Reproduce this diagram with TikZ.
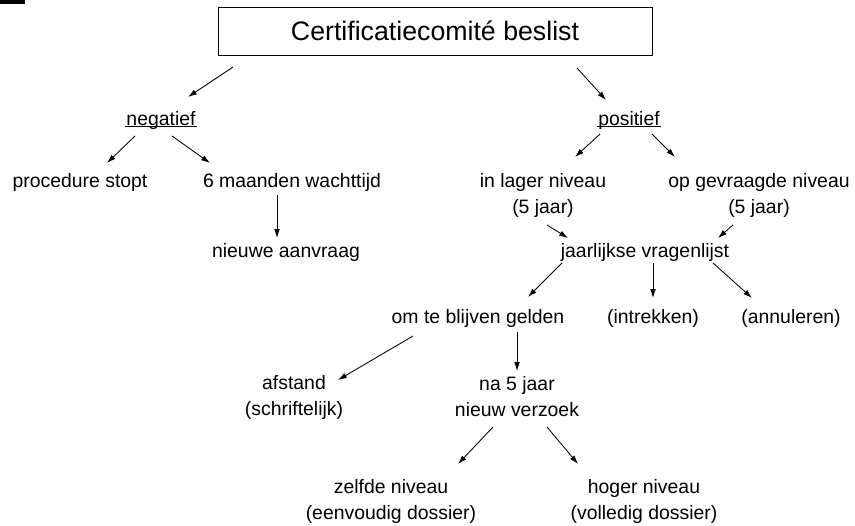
\documentclass[tikz,border=0pt]{standalone}
\usepackage{fontspec}
\setmainfont{Liberation Sans}
\usetikzlibrary{arrows.meta,calc}

\tikzset{
  lbl/.style={font=\fontsize{13.8}{18.5}\selectfont, align=center, inner sep=1pt},
  arr/.style={-{Latex[length=2.2mm,width=1.4mm]}, line width=0.6pt},
}

\begin{document}
\begin{tikzpicture}[x=0.025cm,y=-0.025cm]
  \useasboundingbox (0,0) rectangle (855,526);
  \fill (0,0) rectangle (25,4);

  \node[draw, line width=0.6pt, minimum width=10.85cm, minimum height=1.2cm,
        font=\fontsize{19}{23}\selectfont] (title) at (435,31) {Certificatiecomité beslist};

  % eerste splitsing
  \node[lbl, text depth=0pt] (neg) at (161,118) {negatief};
  \node[lbl, text depth=0pt] (pos) at (629,118) {positief};
  \draw[line width=0.6pt] (neg.south west) -- (neg.south east);
  \draw[line width=0.6pt] (pos.south west) -- (pos.south east);

  \node[lbl] (proc) at (80,182) {procedure stopt};
  \node[lbl] (wacht) at (292,182) {6 maanden wachttijd};
  \node[lbl] (nieuw) at (286,252) {nieuwe aanvraag};

  \node[lbl] (lager) at (543,195) {in lager niveau\\(5 jaar)};
  \node[lbl] (gevr) at (759,195) {op gevraagde niveau\\(5 jaar)};
  \node[lbl] (jaar) at (645,252) {jaarlijkse vragenlijst};

  \node[lbl] (blijf) at (478,318) {om te blijven gelden};
  \node[lbl] (intr) at (653,318) {(intrekken)};
  \node[lbl] (annul) at (791,318) {(annuleren)};

  \node[lbl] (afst) at (294,397) {afstand\\(schriftelijk)};
  \node[lbl] (na5) at (517,397) {na 5 jaar\\nieuw verzoek};

  \node[lbl] (zelf) at (391,501) {zelfde niveau\\(eenvoudig dossier)};
  \node[lbl] (hoger) at (644,501) {hoger niveau\\(volledig dossier)};

  % pijlen
  \draw[arr] ($(title)+(-202,36)$) -- ($(neg)+(27,-21)$);
  \draw[arr] ($(title)+(142,37)$) -- ($(pos)+(-23,-18)$);
  \draw[arr] ($(neg)+(-26,18)$) -- ($(proc)+(27,-19)$);
  \draw[arr] ($(neg)+(11,18)$) -- ($(wacht)+(-82,-19)$);
  \draw[arr] ($(wacht)+(-15,13)$) -- ($(nieuw)+(-9,-14)$);
  \draw[arr] ($(pos)+(-29,16)$) -- ($(lager)+(32,-38)$);
  \draw[arr] ($(pos)+(23,16)$) -- ($(gevr)+(-84,-38)$);
  \draw[arr] ($(lager)+(4,30)$) -- ($(jaar)+(-77,-14)$);
  \draw[arr] ($(gevr)+(-26,30)$) -- ($(jaar)+(73,-14)$);
  \draw[arr] ($(jaar)+(-83,11)$) -- ($(blijf)+(50,-21)$);
  \draw[arr] ($(jaar)+(8,11)$) -- ($(intr)+(0,-20)$);
  \draw[arr] ($(jaar)+(68,11)$) -- ($(annul)+(-39,-20)$);
  \draw[arr] ($(blijf)+(-65,18)$) -- ($(afst)+(44,-17)$);
  \draw[arr] ($(blijf)+(39,14)$) -- ($(na5)+(0,-26)$);
  \draw[arr] ($(na5)+(-24,30)$) -- ($(zelf)+(67,-37)$);
  \draw[arr] ($(na5)+(30,30)$) -- ($(hoger)+(-66,-37)$);
\end{tikzpicture}
\end{document}
